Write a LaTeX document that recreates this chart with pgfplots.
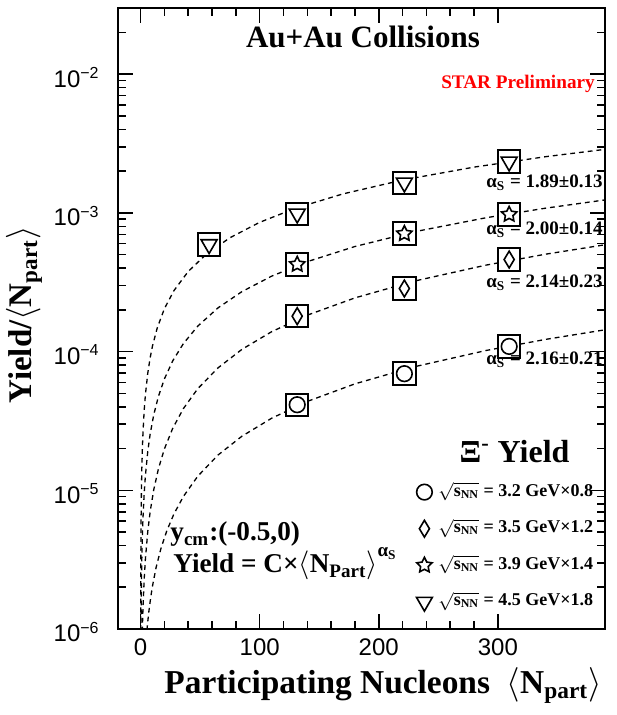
\documentclass[border=0pt]{standalone}
\usepackage{amsmath}
\usepackage{fontspec}
\setmainfont{Liberation Serif}
\newfontfamily\helv{Liberation Sans}
\usepackage{pgfplots}
\pgfplotsset{compat=1.18}
\newcommand{\fs}[1]{\fontsize{#1pt}{#1pt}\selectfont}
\pgfdeclareplotmark{ostar}{%
  \pgfpathmoveto{\pgfpointpolar{90}{\pgfplotmarksize}}%
  \pgfpathlineto{\pgfpointpolar{126}{0.5\pgfplotmarksize}}%
  \pgfpathlineto{\pgfpointpolar{162}{\pgfplotmarksize}}%
  \pgfpathlineto{\pgfpointpolar{198}{0.5\pgfplotmarksize}}%
  \pgfpathlineto{\pgfpointpolar{234}{\pgfplotmarksize}}%
  \pgfpathlineto{\pgfpointpolar{270}{0.5\pgfplotmarksize}}%
  \pgfpathlineto{\pgfpointpolar{306}{\pgfplotmarksize}}%
  \pgfpathlineto{\pgfpointpolar{342}{0.5\pgfplotmarksize}}%
  \pgfpathlineto{\pgfpointpolar{18}{\pgfplotmarksize}}%
  \pgfpathlineto{\pgfpointpolar{54}{0.5\pgfplotmarksize}}%
  \pgfpathclose
  \pgfusepathqstroke
}
\begin{document}
\begin{tikzpicture}
\useasboundingbox (-59pt,-43pt) rectangle (249pt,314.5pt);
\begin{axis}[
  at={(0pt,0pt)}, anchor=south west, scale only axis,
  width=243.5pt, height=310.5pt,
  xmin=-19, xmax=390, ymode=log, ymin=1e-6, ymax=3e-2,
  xtick={0,100,200,300}, xticklabels={0,100,200,300},
  minor x tick num=4,
  ytick={1e-6,1e-5,1e-4,1e-3,1e-2},
  yticklabels={10\textsuperscript{−6},10\textsuperscript{−5},10\textsuperscript{−4},10\textsuperscript{−3},10\textsuperscript{−2}},
  minor ytick={2e-6,3e-6,4e-6,5e-6,6e-6,7e-6,8e-6,9e-6,2e-5,3e-5,4e-5,5e-5,6e-5,7e-5,8e-5,9e-5,2e-4,3e-4,4e-4,5e-4,6e-4,7e-4,8e-4,9e-4,2e-3,3e-3,4e-3,5e-3,6e-3,7e-3,8e-3,9e-3,2e-2,3e-2},
  tick align=inside,
  major tick length=7.5pt, minor tick length=3.8pt,
  axis line style={line width=1pt},
  tick style={black, line width=0.8pt},
  xticklabel style={font=\helv\fs{12}, inner sep=0pt, yshift=-4.5pt},
  yticklabel style={font=\helv\fs{12}, inner sep=0pt, xshift=-9pt, yshift=-1.5pt},
  legend style={at={(0.612,0.2372)}, anchor=north west, draw=none, fill=none, inner sep=0pt,
    font=\bfseries\fs{9}, row sep=8.3pt, column sep=3pt,
    nodes={inner sep=0pt, text height=7pt, text depth=3pt}},
  legend cell align=left,
  legend image code/.code={\draw[#1] plot coordinates {(4pt,0pt)};},
]
% fitted curves
\addplot[black, line width=0.65pt, dash pattern=on 2.4pt off 2pt, forget plot] coordinates {
(0.05,9.86e-7) (0.1,1.828e-6) (0.2,3.388e-6) (0.4,6.278e-6) (0.7,1.033e-5) (1,1.419e-5)
(1.5,2.036e-5) (2,2.630e-5) (3,3.772e-5) (4,4.873e-5) (6,6.991e-5) (8,9.031e-5)
(10,1.1015e-4) (14,1.4861e-4) (20,2.0414e-4) (28,2.7541e-4) (40,3.7826e-4) (55,5.022e-4)
(75,6.620e-4) (100,8.551e-4) (130,1.080e-3) (170,1.371e-3) (220,1.725e-3) (280,2.138e-3)
(340,2.541e-3) (390,2.871e-3)};
\addplot[black, line width=0.65pt, dash pattern=on 2.4pt off 2pt, forget plot] coordinates {
(0.3,9.54e-7) (0.4,1.272e-6) (0.6,1.908e-6) (0.8,2.544e-6) (1,3.18e-6) (1.5,4.77e-6)
(2,6.36e-6) (3,9.54e-6) (4,1.272e-5) (6,1.908e-5) (8,2.544e-5) (11,3.498e-5) (15,4.77e-5)
(20,6.36e-5) (27,8.586e-5) (36,1.1448e-4) (48,1.5264e-4) (65,2.067e-4) (85,2.703e-4)
(110,3.498e-4) (140,4.452e-4) (180,5.724e-4) (230,7.314e-4) (290,9.222e-4) (340,1.0812e-3)
(390,1.2402e-3)};
\addplot[black, line width=0.65pt, dash pattern=on 2.4pt off 2pt, forget plot] coordinates {
(1.4,9.61e-7) (2,1.443e-6) (3,2.291e-6) (4,3.180e-6) (6,5.048e-6) (8,7.007e-6) (11,1.0075e-5)
(15,1.4348e-5) (20,1.9916e-5) (27,2.804e-5) (36,3.892e-5) (48,5.404e-5) (65,7.634e-5)
(85,1.0367e-4) (110,1.3906e-4) (140,1.8312e-4) (180,2.4387e-4) (230,3.2250e-4)
(290,4.2006e-4) (340,5.036e-4) (390,5.890e-4)};
\addplot[black, line width=0.65pt, dash pattern=on 2.4pt off 2pt, forget plot] coordinates {
(5.3,9.81e-7) (6,1.1325e-6) (7,1.3542e-6) (8.5,1.6964e-6) (10,2.0481e-6) (13,2.7769e-6)
(17,3.790e-6) (22,5.111e-6) (28,6.762e-6) (36,9.050e-6) (48,1.2635e-5) (65,1.7960e-5)
(85,2.4514e-5) (110,3.307e-5) (140,4.373e-5) (180,5.855e-5) (230,7.779e-5) (290,1.0181e-4)
(340,1.2241e-4) (390,1.4358e-4)};
% systematic boxes
\addplot[only marks, mark=square*, mark size=5.6pt, mark options={fill=white, draw=black, line width=1pt}, forget plot] coordinates {
(57.5,5.93e-4) (131.5,9.86e-4) (221.5,1.65e-3) (309.5,2.34e-3)
(131.5,4.25e-4) (221.5,7.08e-4) (309.5,9.75e-4)
(131.5,1.80e-4) (221.5,2.85e-4) (309.5,4.61e-4)
(131.5,4.14e-5) (221.5,6.93e-5) (309.5,1.09e-4)};
% data markers
\addplot[only marks, mark=o, mark size=3.9pt, mark options={black, line width=0.8pt}] coordinates {
(131.5,4.14e-5) (221.5,6.93e-5) (309.5,1.09e-4)};
\addlegendentry{$\sqrt{\text{s}_{\text{NN}}}$ = 3.2 GeV×0.8}
\addplot[only marks, mark=diamond, mark size=4.2pt, mark options={black, line width=0.8pt, xscale=0.8}] coordinates {
(131.5,1.80e-4) (221.5,2.85e-4) (309.5,4.61e-4)};
\addlegendentry{$\sqrt{\text{s}_{\text{NN}}}$ = 3.5 GeV×1.2}
\addplot[only marks, mark=ostar, mark size=4.0pt, mark options={black, line width=0.8pt}] coordinates {
(131.5,4.25e-4) (221.5,7.08e-4) (309.5,9.75e-4)};
\addlegendentry{$\sqrt{\text{s}_{\text{NN}}}$ = 3.9 GeV×1.4}
\addplot[only marks, mark=triangle, mark size=4.6pt, mark options={black, line width=0.8pt, rotate=180}] coordinates {
(57.5,5.93e-4) (131.5,9.86e-4) (221.5,1.65e-3) (309.5,2.34e-3)};
\addlegendentry{$\sqrt{\text{s}_{\text{NN}}}$ = 4.5 GeV×1.8}
\end{axis}
% texts
\node[anchor=base, font=\bfseries\fs{15.5}, inner sep=0pt] at (122.5pt,290.5pt) {Au+Au Collisions};
\node[anchor=base, font=\bfseries\fs{9.6}, inner sep=0pt, text=red] at (200pt,270pt) {STAR Preliminary};
\node[anchor=base east, font=\bfseries\fs{9.5}, inner sep=0pt] at (242.5pt,220.5pt) {α\textsubscript{S} = 1.89±0.13};
\node[anchor=base east, font=\bfseries\fs{9.5}, inner sep=0pt] at (242.5pt,197pt) {α\textsubscript{S} = 2.00±0.14};
\node[anchor=base east, font=\bfseries\fs{9.5}, inner sep=0pt] at (242.5pt,170.5pt) {α\textsubscript{S} = 2.14±0.23};
\node[anchor=base east, font=\bfseries\fs{9.5}, inner sep=0pt] at (242.5pt,132pt) {α\textsubscript{S} = 2.16±0.21};
\node[anchor=base, font=\bfseries\fs{16}, inner sep=0pt] at (198.25pt,83pt) {Ξ\textsuperscript{-} Yield};
\node[anchor=base west, font=\bfseries\fs{13.6}, inner sep=0pt] at (26pt,44pt) {y\textsubscript{cm}:(-0.5,0)};
\node[anchor=base west, font=\bfseries\fs{13.6}, inner sep=0pt] at (27.5pt,28pt) {Yield = C×$\langle$N\textsubscript{Part}$\rangle$\raisebox{3pt}{\textsuperscript{α\textsubscript{S}}}};
\node[anchor=base east, font=\bfseries\fs{16.7}, inner sep=0pt] at (242pt,-32pt) {Participating Nucleons \ $\langle$N\textsubscript{part}$\rangle$};
\node[anchor=base, rotate=90, font=\bfseries\fs{16.5}, inner sep=0pt] at (-43pt,157pt) {Yield/$\langle$N\textsubscript{part}$\rangle$};
\end{tikzpicture}
\end{document}
